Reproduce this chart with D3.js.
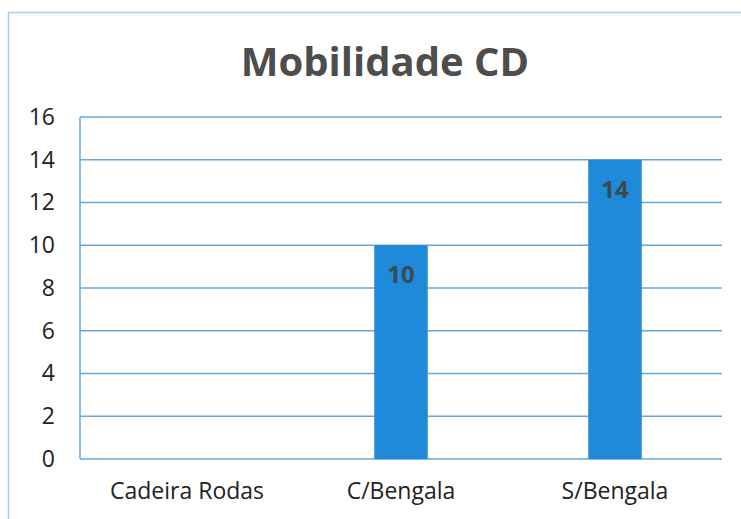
<!DOCTYPE html>
<html>
<head>
<meta charset="utf-8">
<script src="https://cdn.jsdelivr.net/npm/d3@7"></script>
<style>
  body { margin: 0; background: #fff; }
  svg { display: block; }
</style>
</head>
<body>
<svg width="741" height="519"></svg>
<script>
// data
var categories = ["Cadeira Rodas", "C/Bengala", "S/Bengala"];
var values = [0, 10, 14];
var yTicks = [0, 2, 4, 6, 8, 10, 12, 14, 16];
var title = "Mobilidade CD";

var svg = d3.select("svg"), width = +svg.attr("width"), height = +svg.attr("height");
var font = "'Open Sans', 'Liberation Sans', sans-serif";

// outer chart border (cut off on right and bottom in the scan)
svg.append("rect")
	.attr("x", 8.5).attr("y", 12.5)
	.attr("width", 760).attr("height", 540)
	.attr("fill", "none")
	.attr("stroke", "#a9cbe6")
	.attr("stroke-width", 1.5);

var plot = { left: 80, right: 722, top: 117, bottom: 459 };

var x = d3.scaleBand().domain(categories).range([plot.left, plot.right]).padding(0);
var y = d3.scaleLinear().domain([0, 16]).range([plot.bottom, plot.top]);

// gridlines
svg.append("g")
	.selectAll("line")
	.data(yTicks)
	.enter()
	.append("line")
	.attr("x1", plot.left).attr("x2", plot.right)
	.attr("y1", function(d) { return y(d); })
	.attr("y2", function(d) { return y(d); })
	.attr("stroke", "#6aa6d6")
	.attr("stroke-width", 1.5);

// left axis line
svg.append("line")
	.attr("x1", plot.left).attr("x2", plot.left)
	.attr("y1", plot.top).attr("y2", plot.bottom)
	.attr("stroke", "#6aa6d6")
	.attr("stroke-width", 1.5);

// y tick labels
var yAxis = svg.append("g")
	.attr("transform", "translate(" + (plot.left - 25) + ",0)")
	.call(d3.axisLeft(y).tickValues(yTicks).tickSize(0).tickPadding(0));
yAxis.select(".domain").remove();
yAxis.selectAll("text")
	.attr("font-family", font)
	.attr("font-size", 23)
	.attr("fill", "#222");

// x category labels
var xAxis = svg.append("g")
	.attr("transform", "translate(0," + (plot.bottom + 24) + ")")
	.call(d3.axisBottom(x).tickSize(0).tickPadding(0));
xAxis.select(".domain").remove();
xAxis.selectAll("text")
	.attr("font-family", font)
	.attr("font-size", 23)
	.attr("fill", "#222");

// bars
var barW = x.bandwidth() * 0.25;
svg.append("g")
	.selectAll("rect")
	.data(values)
	.enter()
	.append("rect")
	.filter(function(d) { return d > 0; })
	.attr("x", function(d) { return x(categories[values.indexOf(d)]) + (x.bandwidth() - barW) / 2; })
	.attr("y", function(d) { return y(d); })
	.attr("width", barW)
	.attr("height", function(d) { return y(0) - y(d); })
	.attr("fill", "#208ada");

// value labels
svg.append("g")
	.selectAll("text")
	.data(values.filter(function(d) { return d > 0; }))
	.enter()
	.append("text")
	.attr("x", function(d) { return x(categories[values.indexOf(d)]) + x.bandwidth() / 2; })
	.attr("y", function(d) { return y(d) + 38; })
	.attr("text-anchor", "middle")
	.attr("font-family", font)
	.attr("font-weight", "bold")
	.attr("font-size", 24)
	.attr("fill", "#3a4a50")
	.text(function(d) { return d; });

// title
svg.append("text")
	.attr("x", 385).attr("y", 76)
	.attr("text-anchor", "middle")
	.attr("font-family", font)
	.attr("font-weight", "bold")
	.attr("font-size", 40)
	.attr("fill", "#4d4d4d")
	.text(title);
</script>
</body>
</html>
